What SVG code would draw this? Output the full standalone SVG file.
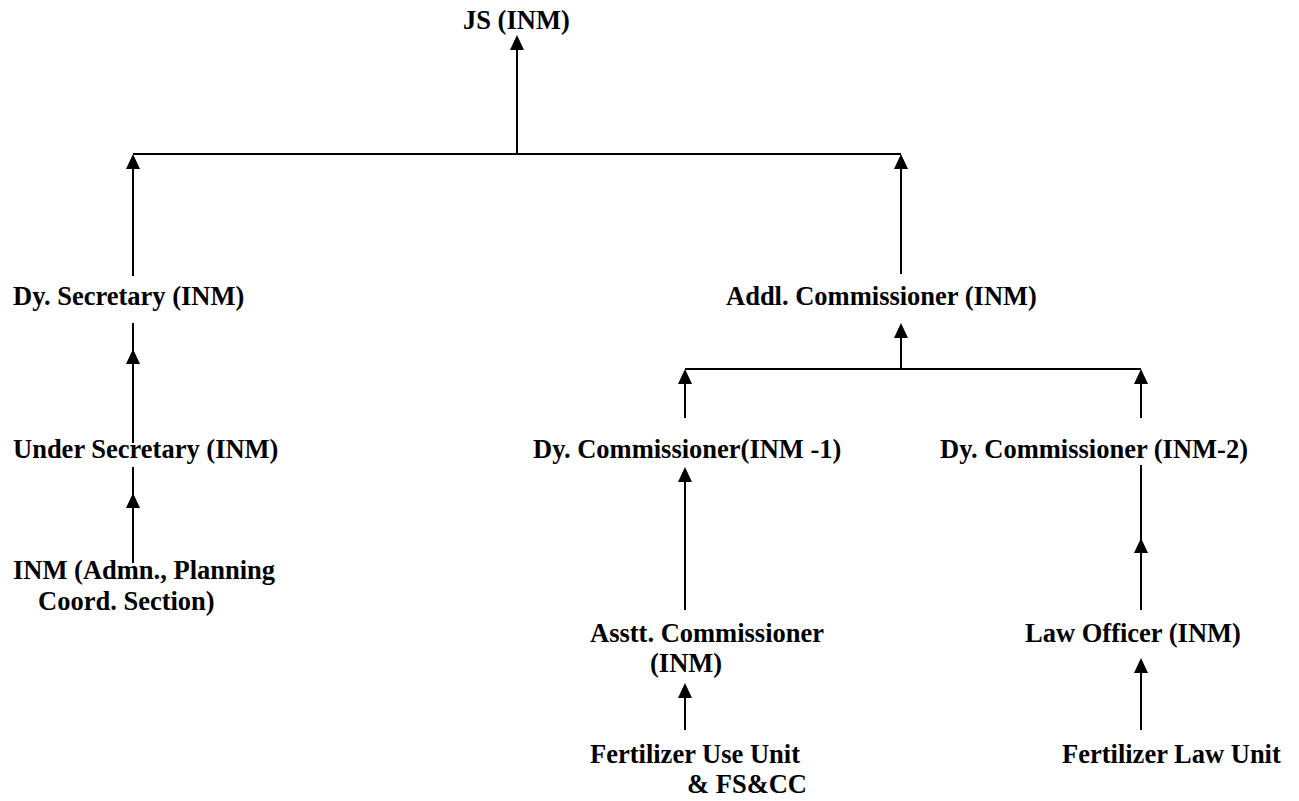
<svg xmlns="http://www.w3.org/2000/svg" width="1299" height="801" viewBox="0 0 1299 801">
<style>
.t{font-family:"Liberation Serif","Times New Roman",serif;font-weight:bold;font-size:26.5px;fill:#000}
.c line{stroke:#000;stroke-width:2;fill:none}
.a{marker-end:url(#ah)}
</style>
<defs>
<marker id="ah" markerUnits="userSpaceOnUse" viewBox="0 0 15 14" markerWidth="15" markerHeight="14" refX="11" refY="7" orient="auto">
<path d="M0,0 L15,7 L0,14 z" fill="#000"/>
</marker>
</defs>
<rect width="1299" height="801" fill="#fff"/>
<g class="c" id="connectors">
<line class="a" x1="517" y1="154" x2="517" y2="39"/>
<line x1="133" y1="154" x2="901" y2="154"/>
<line class="a" x1="133" y1="276" x2="133" y2="158"/>
<line class="a" x1="901" y1="274" x2="901" y2="158"/>
<line x1="133" y1="323" x2="133" y2="352"/>
<line class="a" x1="133" y1="443" x2="133" y2="353"/>
<line x1="133" y1="467" x2="133" y2="496"/>
<line class="a" x1="133" y1="563" x2="133" y2="497"/>
<line class="a" x1="901" y1="369" x2="901" y2="327"/>
<line x1="685" y1="369" x2="1141" y2="369"/>
<line class="a" x1="685" y1="418" x2="685" y2="373"/>
<line class="a" x1="1141" y1="418" x2="1141" y2="373"/>
<line class="a" x1="685" y1="610" x2="685" y2="471"/>
<line x1="1141" y1="465" x2="1141" y2="541"/>
<line class="a" x1="1141" y1="610" x2="1141" y2="542"/>
<line class="a" x1="685" y1="730" x2="685" y2="687"/>
<line class="a" x1="1141" y1="730" x2="1141" y2="662"/>
</g>
<g id="js"><text class="t" x="463" y="29">JS (INM)</text></g>
<g id="dysec"><text class="t" x="13" y="305">Dy. Secretary (INM)</text></g>
<g id="addl"><text class="t" x="726" y="305">Addl. Commissioner (INM)</text></g>
<g id="usec"><text class="t" x="13" y="458">Under Secretary (INM)</text></g>
<g id="dyc1"><text class="t" x="533" y="458">Dy. Commissioner(INM -1)</text></g>
<g id="dyc2"><text class="t" x="1248" y="458" text-anchor="end">Dy. Commissioner (INM-2)</text></g>
<g id="inmadmn"><text class="t" x="13" y="579">INM (Admn., Planning</text><text class="t" x="38" y="610">Coord. Section)</text></g>
<g id="asstt"><text class="t" x="590" y="642">Asstt. Commissioner</text><text class="t" x="650" y="672">(INM)</text></g>
<g id="law"><text class="t" x="1025" y="642">Law Officer (INM)</text></g>
<g id="fuu"><text class="t" x="590" y="763">Fertilizer Use Unit</text><text class="t" x="687" y="793">&amp; FS&amp;CC</text></g>
<g id="flu"><text class="t" x="1062" y="763">Fertilizer Law Unit</text></g>
</svg>
